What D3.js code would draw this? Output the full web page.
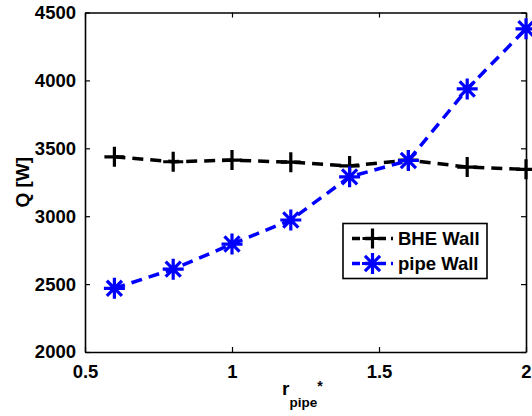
<!DOCTYPE html>
<meta charset="utf-8">
<style>
body { margin: 0; background: #fff; font-family: 'Liberation Sans', Arial, sans-serif; }
text { font-weight: bold; }
</style>
<script src="https://cdnjs.cloudflare.com/ajax/libs/d3/7.8.5/d3.min.js"></script>
<div id="chart"></div>
<script>
// data
var rPipe = [0.6, 0.8, 1.0, 1.2, 1.4, 1.6, 1.8, 2.0];
var bheWall = [3437, 3401, 3413, 3398, 3370, 3413, 3362, 3345];
var pipeWall = [2469, 2610, 2795, 2972, 3290, 3410, 3937, 4380];
var xTicks = [0.5, 1, 1.5, 2];
var yTicks = [2000, 2500, 3000, 3500, 4000, 4500];

var margin = {top: 12.5, right: 6, bottom: 64, left: 85},
    width = 532 - margin.left - margin.right,
    height = 416 - margin.top - margin.bottom;

var svg = d3.select("#chart").append("svg")
    .attr("width", 532).attr("height", 416)
  .append("g")
    .attr("transform", "translate(" + margin.left + "," + margin.top + ")");

var x = d3.scaleLinear().domain([0.5, 2]).range([0, width]);
var y = d3.scaleLinear().domain([2000, 4500]).range([height, 0]);

// axes, ticks inside like matlab
var fmt = function(d) { return d; };
svg.append("g").attr("transform", "translate(0," + height + ")")
  .call(d3.axisBottom(x).tickValues(xTicks).tickFormat(fmt).tickSizeInner(-5).tickSizeOuter(0).tickPadding(13));
svg.append("g").attr("transform", "translate(0,0)")
  .call(d3.axisTop(x).tickValues(xTicks).tickFormat("").tickSizeInner(-5).tickSizeOuter(0));
svg.append("g")
  .call(d3.axisLeft(y).tickValues(yTicks).tickFormat(fmt).tickSizeInner(-5).tickSizeOuter(0).tickPadding(9));
svg.append("g").attr("transform", "translate(" + width + ",0)")
  .call(d3.axisRight(y).tickValues(yTicks).tickFormat("").tickSizeInner(-5).tickSizeOuter(0));

svg.selectAll(".domain").attr("stroke", "#000").attr("stroke-width", 1.6);
svg.selectAll(".tick line").attr("stroke", "#000").attr("stroke-width", 1.2);
svg.selectAll(".tick text").attr("font-size", 18.5).attr("font-family", "'Liberation Sans', Arial, sans-serif")
  .attr("font-weight", "bold").attr("fill", "#000");

var line = d3.line().x(function(d) { return x(d[0]); }).y(function(d) { return y(d[1]); });

function plus(g, cx, cy, color) {
  g.append("path").attr("d", "M" + (cx - 10) + "," + cy + "H" + (cx + 10) + "M" + cx + "," + (cy - 10) + "V" + (cy + 10))
    .attr("stroke", color).attr("stroke-width", 3.2).attr("fill", "none");
}
function star(g, cx, cy, color) {
  var r = 10.5, d = r * 0.72;
  g.append("path").attr("d",
      "M" + (cx - r) + "," + cy + "H" + (cx + r) +
      "M" + cx + "," + (cy - r) + "V" + (cy + r) +
      "M" + (cx - d) + "," + (cy - d) + "L" + (cx + d) + "," + (cy + d) +
      "M" + (cx - d) + "," + (cy + d) + "L" + (cx + d) + "," + (cy - d))
    .attr("stroke", color).attr("stroke-width", 3.2).attr("fill", "none");
}

var series = [
  {name: "BHE Wall", values: bheWall, color: "#000", marker: plus},
  {name: "pipe Wall", values: pipeWall, color: "#0000ff", marker: star}
];

series.forEach(function(s) {
  var pts = rPipe.map(function(r, i) { return [r, s.values[i]]; });
  svg.append("path").datum(pts).attr("d", line)
    .attr("fill", "none").attr("stroke", s.color).attr("stroke-width", 3.5)
    .attr("stroke-dasharray", "11,7");
  var g = svg.append("g");
  pts.forEach(function(p) { s.marker(g, x(p[0]), y(p[1]), s.color); });
});

// legend
var lg = svg.append("g").attr("transform", "translate(" + (343 - margin.left) + "," + (223.5 - margin.top) + ")");
lg.append("rect").attr("width", 144).attr("height", 55).attr("fill", "#fff").attr("stroke", "#000").attr("stroke-width", 1.6);
series.forEach(function(s, i) {
  var ly = 15 + i * 25;
  lg.append("line").attr("x1", 9).attr("x2", 50).attr("y1", ly).attr("y2", ly)
    .attr("stroke", s.color).attr("stroke-width", 3.5).attr("stroke-dasharray", "8,5");
  s.marker(lg, 29.5, ly, s.color);
  lg.append("text").attr("x", 55).attr("y", ly + 6.5).attr("font-size", 18.5).attr("fill", "#000").text(s.name);
});

// axis titles
svg.append("text").attr("transform", "translate(" + (29 - margin.left) + "," + (height / 2) + ") rotate(-90)")
  .attr("text-anchor", "middle").attr("font-size", 19).attr("fill", "#000").text("Q [W]");

var xt = svg.append("text").attr("x", 282 - margin.left).attr("y", 395 - margin.top).attr("font-size", 19).attr("fill", "#000");
xt.append("tspan").text("r");
xt.append("tspan").attr("font-size", 13.5).attr("dy", 12).text("pipe");
xt.append("tspan").attr("font-size", 14).attr("dy", -16).text("*");
</script>
